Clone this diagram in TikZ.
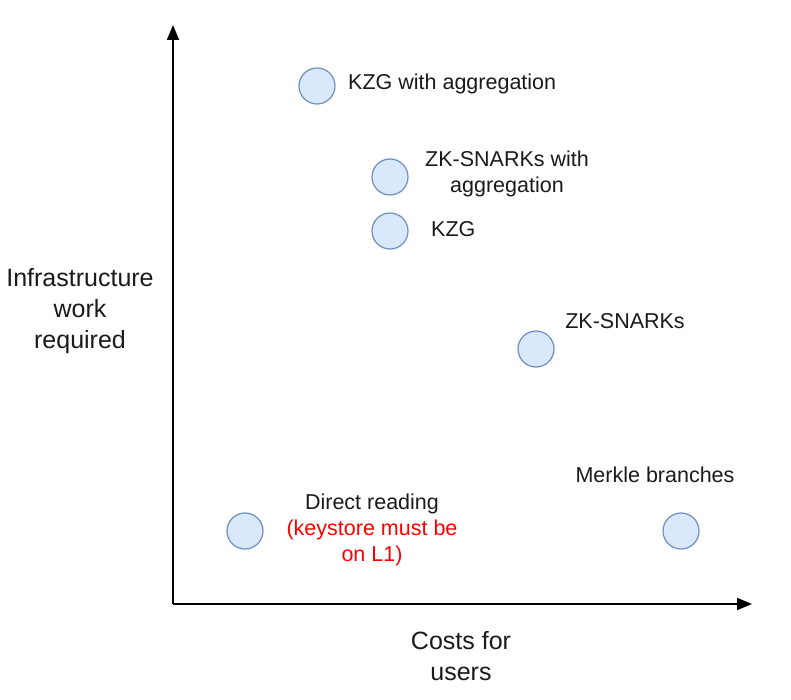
\documentclass[tikz,border=0pt]{standalone}
\usepackage{fontspec}
\setmainfont{Liberation Sans}
\usetikzlibrary{arrows.meta}
\definecolor{dotfill}{HTML}{DAE8FC}
\definecolor{dotdraw}{HTML}{6C8EBF}
\definecolor{txt}{HTML}{1A1A1A}
\begin{document}
\begin{tikzpicture}[x=1pt,y=-1pt,
  dot/.style={circle,fill=dotfill,draw=dotdraw,line width=1.2pt,minimum size=36pt,inner sep=0pt},
  lbl/.style={text=txt,inner sep=0pt,align=center,font=\fontsize{21.5}{26}\selectfont},
  axlbl/.style={text=txt,inner sep=0pt,align=center,font=\fontsize{25}{31}\selectfont},
  axis/.style={line width=1.8pt,-{Triangle[length=15pt,width=12pt]}}]
\useasboundingbox (0,0) rectangle (791,700);
\coordinate (o) at (173,604);
\coordinate (ytip) at (173,25);
\coordinate (xtip) at (752,604);
\draw[axis] (o) -- (ytip);
\draw[axis] (o) -- (xtip);

\node[dot] (c1) at (317,86) {};
\node[lbl,anchor=west] (t1) at (348,84) {KZG with aggregation};

\node[dot] (c2) at (390,177) {};
\node[lbl] (t2) at (507,174) {ZK-SNARKs with\\aggregation};

\node[dot] (c3) at (390,231) {};
\node[lbl,anchor=west] (t3) at (431,229) {KZG};

\node[dot] (c4) at (536,349) {};
\node[lbl] (t4) at (625,321) {ZK-SNARKs};

\node[dot] (c5) at (245,531) {};
\node[lbl] (t5) at (372,530) {Direct reading\\\textcolor{red}{(keystore must be}\\\textcolor{red}{on L1)}};

\node[dot] (c6) at (681,531) {};
\node[lbl] (t6) at (655,475) {Merkle branches};

\node[axlbl] (ylab) at (80,311) {Infrastructure\\work\\required};
\node[axlbl] (xlab) at (461,656) {Costs for\\users};
\end{tikzpicture}
\end{document}
